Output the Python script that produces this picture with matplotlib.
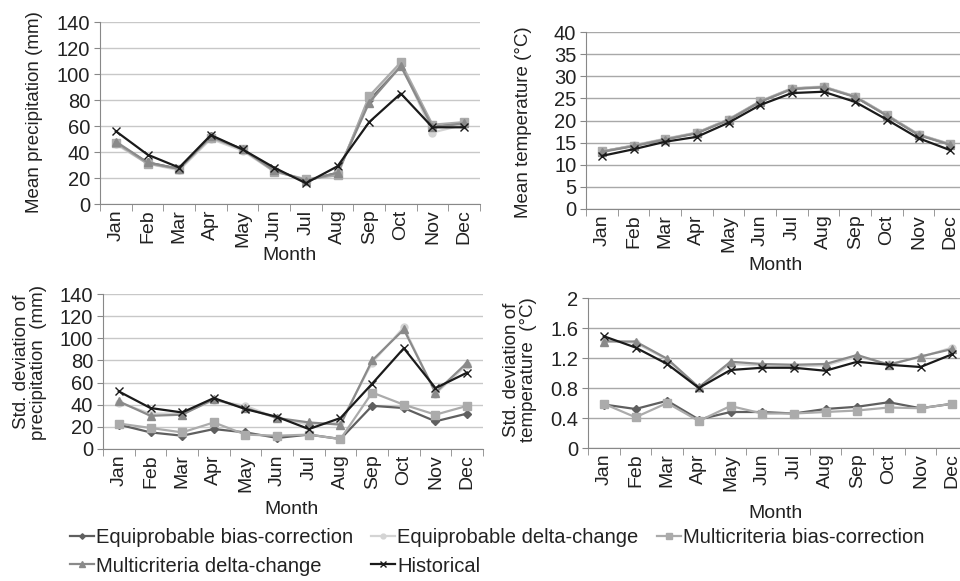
import numpy as np
import matplotlib
matplotlib.use('Agg')
import matplotlib.pyplot as plt

plt.rcParams['font.family'] = ['Liberation Sans', 'DejaVu Sans']
plt.rcParams['font.size'] = 13.5

months = ['Jan', 'Feb', 'Mar', 'Apr', 'May', 'Jun', 'Jul', 'Aug', 'Sep', 'Oct', 'Nov', 'Dec']

# mean precipitation (mm)
pm_eq_bc = [47, 32, 27, 52, 42, 26, 18, 24, 80, 107, 60, 62]
pm_eq_dc = [46, 31, 26, 50, 41, 25, 19, 23, 82, 108, 55, 61]
pm_mc_bc = [47, 31, 27, 51, 42, 25, 19, 22, 83, 109, 61, 63]
pm_mc_dc = [48, 32, 27, 52, 42, 26, 18, 24, 78, 106, 59, 62]
pm_hist = [56, 38, 28, 53, 42, 28, 16, 29, 63, 85, 59, 59]

# mean temperature (C)
tm_eq_bc = [13.0, 14.3, 15.8, 17.2, 20.2, 24.3, 27.2, 27.6, 25.4, 21.2, 16.8, 14.6]
tm_eq_dc = [13.0, 14.4, 15.9, 17.3, 20.3, 24.4, 27.3, 27.7, 25.5, 21.3, 16.9, 14.7]
tm_mc_bc = [13.0, 14.3, 15.8, 17.2, 20.2, 24.3, 27.2, 27.6, 25.4, 21.2, 16.8, 14.6]
tm_mc_dc = [12.9, 14.2, 15.7, 17.1, 20.1, 24.2, 27.1, 27.5, 25.3, 21.1, 16.7, 14.5]
tm_hist = [12.0, 13.5, 15.2, 16.3, 19.5, 23.5, 26.2, 26.5, 24.2, 20.2, 16.0, 13.3]

# std. deviation of precipitation (mm)
ps_eq_bc = [22, 15, 12, 18, 15, 10, 13, 9, 39, 37, 25, 32]
ps_eq_dc = [42, 32, 32, 44, 39, 28, 22, 24, 78, 110, 50, 76]
ps_mc_bc = [23, 19, 15, 24, 13, 12, 13, 9, 51, 40, 31, 39]
ps_mc_dc = [43, 30, 31, 45, 37, 28, 24, 22, 80, 108, 51, 78]
ps_hist = [52, 37, 33, 46, 36, 29, 18, 28, 59, 91, 55, 69]

# std. deviation of temperature (C)
ts_eq_bc = [0.58, 0.52, 0.63, 0.38, 0.48, 0.48, 0.46, 0.52, 0.55, 0.61, 0.53, 0.59]
ts_eq_dc = [1.44, 1.40, 1.18, 0.80, 1.12, 1.10, 1.09, 1.10, 1.22, 1.12, 1.21, 1.34]
ts_mc_bc = [0.59, 0.41, 0.60, 0.36, 0.56, 0.46, 0.46, 0.48, 0.50, 0.54, 0.53, 0.59]
ts_mc_dc = [1.42, 1.42, 1.19, 0.81, 1.15, 1.12, 1.11, 1.12, 1.24, 1.11, 1.22, 1.32]
ts_hist = [1.49, 1.34, 1.12, 0.80, 1.04, 1.07, 1.07, 1.03, 1.15, 1.11, 1.08, 1.25]

names = ['Equiprobable bias-correction', 'Equiprobable delta-change',
         'Multicriteria bias-correction', 'Multicriteria delta-change', 'Historical']
styles = [dict(color='#5f5f5f', marker='D', ms=4),
          dict(color='#d4d4d4', marker='o', ms=5),
          dict(color='#ababab', marker='s', ms=6),
          dict(color='#8a8a8a', marker='^', ms=6),
          dict(color='#1a1a1a', marker='x', ms=6, mew=1.0)]

W, H = 960, 581
fig = plt.figure(figsize=(9.6, 5.81), dpi=100)

def fx(px):
    return px / W

def fy(px):
    return 1 - px / H

def make_panel(rect, series, ymax, ystep, ylab, ylab_xy, mlab_xy, tickfmt=None, gridc='#c8c8c8'):
    ax = fig.add_axes(rect)
    x = np.arange(12)
    lines = []
    for vals, st in zip(series, styles):
        l, = ax.plot(x, vals, lw=1.6, **st)
        lines.append(l)
    ax.set_xlim(-0.5, 11.5)
    ax.set_ylim(0, ymax)
    ticks = np.arange(0, ymax + ystep / 2, ystep)
    ax.set_yticks(ticks)
    if tickfmt:
        ax.set_yticklabels([tickfmt(t) for t in ticks])
    ax.set_xticks(x)
    ax.set_xticklabels(months, rotation=90)
    ax.set_xticks(np.arange(-0.5, 12, 1), minor=True)
    ax.tick_params(axis='x', which='major', length=0, pad=4, colors='#222222', labelsize=14)
    ax.tick_params(axis='x', which='minor', length=5, color='#888888')
    ax.tick_params(axis='y', length=4, color='#888888', pad=3, colors='#222222', labelsize=14.5)
    ax.yaxis.grid(True, color=gridc, lw=1)
    ax.set_axisbelow(True)
    for s in ['top', 'right']:
        ax.spines[s].set_visible(False)
    for s in ['left', 'bottom']:
        ax.spines[s].set_color('#888888')
    ax.set_ylabel(ylab, color='#222222', linespacing=1.0)
    ax.yaxis.set_label_coords(fx(ylab_xy[0]), fy(ylab_xy[1]), transform=fig.transFigure)
    ax.yaxis.label.set_va('center')
    ax.set_xlabel('Month', color='#222222', fontsize=14)
    ax.xaxis.set_label_coords(fx(mlab_xy[0]), fy(mlab_xy[1]), transform=fig.transFigure)
    ax.xaxis.label.set_va('center')
    return lines

w = 380 / W
lines = make_panel([fx(100), fy(204), w, (204 - 22) / H],
                   [pm_eq_bc, pm_eq_dc, pm_mc_bc, pm_mc_dc, pm_hist], 140, 20,
                   'Mean precipitation (mm)', (35, 112), (290, 255))
make_panel([fx(586), fy(209), w, (209 - 32) / H],
           [tm_eq_bc, tm_eq_dc, tm_mc_bc, tm_mc_dc, tm_hist], 40, 5,
           'Mean temperature (°C)', (523, 122), (775, 265), gridc='#a8a8a8')
make_panel([fx(103), fy(449), w, (449 - 294) / H],
           [ps_eq_bc, ps_eq_dc, ps_mc_bc, ps_mc_dc, ps_hist], 140, 20,
           'Std. deviation of\nprecipitation  (mm)', (30, 362), (292, 510))
make_panel([fx(588), fy(448), w, (448 - 298) / H],
           [ts_eq_bc, ts_eq_dc, ts_mc_bc, ts_mc_dc, ts_hist], 2, 0.4,
           'Std. deviation of\ntemperature  (°C)', (520, 370), (775, 513),
           tickfmt=lambda t: '0' if t == 0 else ('2' if t == 2 else '%.1f' % t),
           gridc='#a8a8a8')

order = [0, 3, 1, 4, 2]
fig.legend([lines[i] for i in order], [names[i] for i in order],
           loc='center', bbox_to_anchor=(fx(497), fy(552)), ncol=3, frameon=False,
           handlelength=1.2, handletextpad=0.1, columnspacing=0.9,
           labelspacing=0.45, markerscale=0.7, fontsize=14.5, labelcolor='#222222')

fig.savefig('out.png', dpi=100)
